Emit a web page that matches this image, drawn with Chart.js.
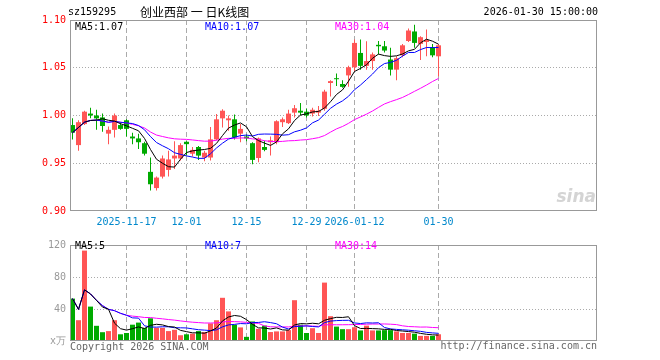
<!DOCTYPE html>
<html>
<head>
<meta charset="utf-8">
<script src="https://cdn.jsdelivr.net/npm/chart.js@4.4.1/dist/chart.umd.min.js"></script>
<style>
  body { margin: 0; background: #fff; width: 660px; height: 360px; position: relative; overflow: hidden;
         font-family: "DejaVu Sans Mono", monospace; font-size: 10px; }
  canvas { position: absolute; left: 0; }
  .t { position: absolute; white-space: nowrap; line-height: 12px; }
</style>
</head>
<body>
<canvas id="kChart" width="660" height="235" style="top:0"></canvas>
<canvas id="volChart" width="660" height="125" style="top:235px"></canvas>

<div class="t" style="left:68px;top:6px;color:#000">sz159295</div>
<div class="t" style="left:140px;top:5px;color:#000;font-family:'Noto Sans CJK SC',sans-serif;font-size:12px;line-height:14px">创业西部 一 日K线图</div>
<div class="t" style="right:62px;top:6px;color:#000">2026-01-30 15:00:00</div>

<div class="t" style="left:75px;top:21px;color:#000">MA5:1.07</div>
<div class="t" style="left:205px;top:21px;color:#0000ff">MA10:1.07</div>
<div class="t" style="left:335px;top:21px;color:#ff00ff">MA30:1.04</div>

<div class="t" style="right:64px;top:186px;color:#d4d4d4;font-family:'DejaVu Sans',sans-serif;font-style:italic;font-weight:bold;font-size:17px;line-height:20px">sina</div>

<div class="t" style="left:75px;top:240px;color:#000">MA5:5</div>
<div class="t" style="left:205px;top:240px;color:#0000ff">MA10:7</div>
<div class="t" style="left:335px;top:240px;color:#ff00ff">MA30:14</div>

<div class="t" style="left:70px;top:341px;color:#666">Copyright 2026 SINA.COM</div>
<div class="t" style="right:63px;top:340px;color:#666">http://finance.sina.com.cn</div>

<script>
// trading days, 2025-11-04 .. 2026-01-30
const dates = [
  '2025-11-04','2025-11-05','2025-11-06','2025-11-07','2025-11-10','2025-11-11','2025-11-12','2025-11-13','2025-11-14','2025-11-17',
  '2025-11-18','2025-11-19','2025-11-20','2025-11-21','2025-11-24','2025-11-25','2025-11-26','2025-11-27','2025-11-28','2025-12-01',
  '2025-12-02','2025-12-03','2025-12-04','2025-12-05','2025-12-08','2025-12-09','2025-12-10','2025-12-11','2025-12-12','2025-12-15',
  '2025-12-16','2025-12-17','2025-12-18','2025-12-19','2025-12-22','2025-12-23','2025-12-24','2025-12-25','2025-12-26','2025-12-29',
  '2025-12-30','2025-12-31','2026-01-05','2026-01-06','2026-01-07','2026-01-08','2026-01-09','2026-01-12','2026-01-13','2026-01-14',
  '2026-01-15','2026-01-16','2026-01-19','2026-01-20','2026-01-21','2026-01-22','2026-01-23','2026-01-26','2026-01-27','2026-01-28',
  '2026-01-29','2026-01-30'
];
const tickIdx = [9, 19, 29, 39, 47, 61];
const tickLabels = ['2025-11-17', '12-01', '12-15', '12-29', '2026-01-12', '01-30'];

const open = [
  0.990,0.969,0.991,1.002,1.000,0.998,0.981,0.985,0.990,0.995,
  0.978,0.976,0.971,0.941,0.924,0.936,0.943,0.955,0.955,0.9725,
  0.960,0.967,0.956,0.956,0.975,0.997,0.995,0.996,0.981,0.978,
  0.971,0.9555,0.967,0.972,0.972,0.993,0.992,1.003,1.005,1.004,
  1.002,1.003,1.007,1.034,1.039,1.033,1.042,1.0505,1.0655,1.052,
  1.057,1.074,1.0725,1.0586,1.048,1.063,1.078,1.088,1.075,1.077,
  1.071,1.062
];
const close = [
  0.982,0.993,1.004,1.000,0.997,0.989,0.985,1.000,0.986,0.986,
  0.976,0.972,0.960,0.928,0.935,0.955,0.954,0.958,0.969,0.970,
  0.964,0.958,0.961,0.975,0.996,1.005,0.997,0.977,0.986,0.976,
  0.9535,0.976,0.964,0.974,0.994,0.996,1.002,1.0076,1.003,1.000,
  1.006,1.005,1.025,1.036,1.038,1.030,1.0505,1.076,1.052,1.057,
  1.064,1.0725,1.068,1.048,1.060,1.0735,1.089,1.076,1.082,1.079,
  1.063,1.0735
];
const high = [
  0.997,0.995,1.005,1.008,1.006,1.002,0.9885,1.002,0.993,0.996,
  0.982,0.981,0.9725,0.956,0.936,0.958,0.963,0.973,0.971,0.973,
  0.967,0.968,0.963,0.988,1.0015,1.0065,1.000,1.001,0.991,0.980,
  0.972,0.977,0.9735,0.978,0.995,0.998,1.006,1.011,1.013,1.007,
  1.008,1.010,1.027,1.037,1.044,1.037,1.052,1.0795,1.0795,1.0777,
  1.066,1.078,1.078,1.071,1.062,1.075,1.091,1.095,1.083,1.090,
  1.075,1.075
];
const low = [
  0.975,0.963,0.990,0.997,0.985,0.983,0.970,0.977,0.985,0.978,
  0.970,0.965,0.958,0.9215,0.9215,0.934,0.936,0.944,0.953,0.958,
  0.957,0.9535,0.952,0.953,0.974,0.9875,0.984,0.975,0.972,0.973,
  0.949,0.951,0.9625,0.958,0.970,0.988,0.991,0.998,1.000,0.998,
  0.999,0.9995,1.005,1.020,1.031,1.029,1.030,1.0465,1.048,1.048,
  1.048,1.064,1.066,1.042,1.037,1.061,1.077,1.071,1.058,1.062,
  1.061,1.041
];
const ma5 = [
  0.982,0.9875,0.993,0.9948,0.9952,0.9966,0.995,0.9942,0.9914,0.9892,
  0.9866,0.984,0.976,0.9644,0.9542,0.950,0.9464,0.946,0.9542,0.9612,
  0.963,0.9638,0.9644,0.9656,0.9708,0.979,0.9868,0.990,0.9922,0.9882,
  0.9779,0.9737,0.9711,0.9687,0.9723,0.9808,0.986,0.9947,1.0005,1.0017,
  1.0037,1.0043,1.0078,1.0144,1.022,1.0268,1.0359,1.0461,1.0493,1.0531,
  1.0599,1.0643,1.0627,1.0619,1.0625,1.0644,1.0677,1.0693,1.0761,1.0799,
  1.0778,1.0747
];
const ma10 = [
  0.982,0.9875,0.993,0.9948,0.9952,0.9942,0.9929,0.9938,0.9929,0.9922,
  0.9916,0.9895,0.9851,0.9779,0.9717,0.9683,0.9652,0.961,0.9593,0.9577,
  0.9565,0.9551,0.9552,0.9599,0.966,0.971,0.9753,0.9772,0.9789,0.9795,
  0.9785,0.9803,0.9806,0.9805,0.9803,0.9794,0.9799,0.9829,0.9846,0.987,
  0.9923,0.9952,1.0013,1.0075,1.0119,1.0153,1.0201,1.027,1.0319,1.0376,
  1.0434,1.0501,1.0544,1.0556,1.0578,1.0622,1.066,1.066,1.069,1.0712,
  1.0711,1.0712
];
const ma30 = [
  0.982,0.9875,0.993,0.9948,0.9952,0.9942,0.9929,0.9938,0.9929,0.9922,
  0.9907,0.9892,0.9869,0.9827,0.9795,0.978,0.9766,0.9756,0.9752,0.975,
  0.9744,0.9737,0.9731,0.9732,0.9741,0.9753,0.9761,0.9761,0.9765,0.9765,
  0.9755,0.975,0.9736,0.9728,0.9727,0.9729,0.9735,0.9737,0.9743,0.9747,
  0.9757,0.9768,0.979,0.9826,0.986,0.9885,0.9918,0.9957,0.9985,1.0014,
  1.0047,1.0085,1.0121,1.0145,1.0166,1.0189,1.022,1.0253,1.0285,1.0319,
  1.0356,1.0388
];

// volume, x万
const vol = [
  53,26,113,43,19,11,12.4,26,8.4,10,
  20.4,23,16.4,28.4,16.4,16.4,12.4,14,7.2,8.4,
  9.2,12.4,11.2,22,26,54,37,20.4,17,5.2,
  24.4,15.2,19.2,11.2,12,12,13.6,51,20.4,10,
  16,10,73,31,18,14.8,14.8,17.2,13.2,19.2,
  13.2,13.2,13.6,13.6,12,10,10,9.2,6.4,6.4,
  6.4,8.4
];
const volMa5 = [
  53,39.5,64,58.8,50.8,42.4,39.7,22.3,15.4,13.6,
  15.4,17.6,15.6,19.6,20.9,20.1,18,17.5,13.3,11.7,
  10.2,10.2,9.7,12.6,16.2,25.1,30,31.9,30.9,26.7,
  20.8,16.4,16.2,15,16.4,13.9,13.6,20,21.8,21.4,
  22.2,21.5,25.9,28,29.6,29.4,30.3,19.2,15.6,15.8,
  15.5,15.2,14.5,14.6,13.1,12.5,11.8,11,9.5,8.4,
  7.7,7.4
];
const volMa10 = [
  53,39.5,64,58.8,50.8,44.2,39.6,37.9,34.6,32.2,
  28.9,28.6,19,17.5,17.3,17.8,17.8,16.6,16.5,16.3,
  15.2,14.1,13.6,13,14,17.7,20.1,20.8,21.8,21.5,
  23,23.2,24.1,23,21.6,17.4,15,18.1,18.4,18.9,
  18.1,17.6,23,24.9,25.5,25.8,25.9,22.6,21.8,22.7,
  22.5,22.8,16.9,15.1,14.5,14,13.5,12.8,12.1,10.8,
  10.1,9.6
];
const volMa30 = [
  53,39.5,64,58.8,50.8,44.2,39.6,37.9,34.6,32.2,
  31.1,30.4,29.4,29.3,28.4,27.7,26.8,26.1,25.1,24.2,
  23.5,23,22.5,22.5,22.6,23.8,24.3,24.2,23.9,23.3,
  22.4,22,18.9,17.8,17.6,17.6,17.6,18.5,18.9,18.9,
  18.7,18.3,20.2,20.3,20.3,20.3,20.4,20.5,20.7,21,
  21.2,21.2,21.3,21,20.5,19,18.1,17.8,17.4,17.5,
  16.9,16.6
];

const UP = '#ff5555', DOWN = '#00aa00';
const mono = { family: '"DejaVu Sans Mono", monospace', size: 10 };
const xMin = -0.4167, xMax = xMin + 527 / 6;   // 6px per day
const candleColors = open.map((o, i) => close[i] >= open[i] ? UP : DOWN);
const pts = arr => arr.map((v, i) => ({ x: i, y: v }));

// gray box round the plot area
const frame = {
  id: 'frame',
  afterDraw(chart) {
    const { ctx, chartArea: a } = chart;
    ctx.save();
    ctx.strokeStyle = '#999';
    ctx.lineWidth = 1;
    ctx.strokeRect(Math.round(a.left) + 0.5, Math.round(a.top) + 0.5,
                   Math.round(a.right - a.left) - 1, Math.round(a.bottom - a.top) - 1);
    ctx.restore();
  }
};

function maLine(data, color) {
  return { type: 'line', data: pts(data), borderColor: color, borderWidth: 1,
           pointRadius: 0, tension: 0, order: 0 };
}

function xScale(showLabels, height) {
  return {
    type: 'linear', min: xMin, max: xMax, bounds: 'data', offset: false,
    afterBuildTicks: s => { s.ticks = tickIdx.map(v => ({ value: v })); },
    afterFit: s => { s.height = height; },
    ticks: { display: showLabels, autoSkip: false, maxRotation: 0, padding: 5,
             color: '#0088cc', font: mono, callback: (v, i) => tickLabels[i] },
    grid: { color: '#aaa', drawTicks: false, offset: false },
    border: { display: false, dash: [5, 3] }
  };
}

new Chart(document.getElementById('kChart'), {
  type: 'bar',
  data: {
    datasets: [
      maLine(ma5, '#000000'),
      maLine(ma10, '#0000ff'),
      maLine(ma30, '#ff00ff'),
      { // candle bodies
        data: open.map((o, i) => ({ x: i, y: [o, close[i]] })),
        backgroundColor: candleColors, barThickness: 5, minBarLength: 1,
        inflateAmount: 0, grouped: false, order: 1
      },
      { // wicks
        data: low.map((l, i) => ({ x: i, y: [l, high[i]] })),
        backgroundColor: candleColors, barThickness: 1,
        inflateAmount: 0, grouped: false, order: 2
      }
    ]
  },
  options: {
    responsive: false,
    animation: false,
    layout: { padding: { top: 20, right: 63, left: 0, bottom: 0 } },
    plugins: { legend: { display: false }, tooltip: { enabled: false } },
    scales: {
      x: xScale(true, 24),
      y: {
        min: 0.9, max: 1.1,
        afterBuildTicks: s => { s.ticks = [0.9, 0.95, 1.0, 1.05, 1.1].map(v => ({ value: v })); },
        afterFit: s => { s.width = 70; },
        ticks: { color: '#ff0000', font: mono, padding: 4, callback: v => v.toFixed(2) },
        grid: { drawTicks: false,
                color: c => (c.tick && (c.tick.value < 0.91 || c.tick.value > 1.09)) ? 'rgba(0,0,0,0)' : '#aaa' },
        border: { display: false, dash: [1, 2] }
      }
    }
  },
  plugins: [frame]
});

new Chart(document.getElementById('volChart'), {
  type: 'bar',
  data: {
    datasets: [
      maLine(volMa5, '#000000'),
      maLine(volMa10, '#0000ff'),
      maLine(volMa30, '#ff00ff'),
      {
        data: pts(vol),
        backgroundColor: candleColors, barThickness: 5,
        inflateAmount: 0, grouped: false, order: 1
      }
    ]
  },
  options: {
    responsive: false,
    animation: false,
    layout: { padding: { top: 5, right: 63, left: 0, bottom: 0 } },
    plugins: { legend: { display: false }, tooltip: { enabled: false } },
    scales: {
      x: xScale(false, 19),
      y: {
        min: 0, max: 120,
        afterBuildTicks: s => { s.ticks = [0, 40, 80, 120].map(v => ({ value: v })); },
        afterFit: s => { s.width = 70; },
        ticks: { color: '#999', font: mono, padding: 4, callback: v => v === 0 ? 'x万' : v },
        grid: { drawTicks: false,
                color: c => (c.tick && (c.tick.value === 0 || c.tick.value === 120)) ? 'rgba(0,0,0,0)' : '#aaa' },
        border: { display: false, dash: [1, 2] }
      }
    }
  },
  plugins: [frame]
});
</script>
</body>
</html>
